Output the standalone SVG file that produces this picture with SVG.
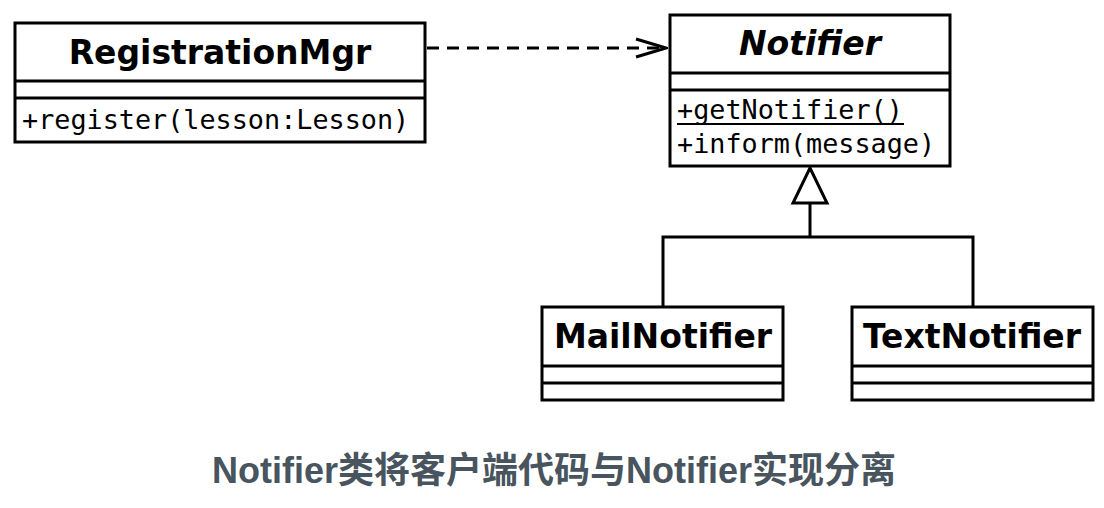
<svg xmlns="http://www.w3.org/2000/svg" width="1104" height="508" viewBox="0 0 1104 508">
<defs>
<style>
.box{fill:#fff;stroke:#000;stroke-width:3}
.ln{stroke:#000;stroke-width:3;fill:none}
.name{font-family:"DejaVu Sans",sans-serif;font-weight:bold;font-size:33px;text-anchor:middle;fill:#000}
.op{font-family:"DejaVu Sans Mono",monospace;font-size:26.8px;fill:#000}
.cap{font-family:"Liberation Sans","Noto Sans CJK SC",sans-serif;font-weight:bold;font-size:36px;text-anchor:middle;fill:#48545e}
</style>
<marker id="open" viewBox="0 0 34 22" refX="33" refY="11" markerWidth="34" markerHeight="22" markerUnits="userSpaceOnUse" orient="auto">
<path d="M2,2 L32,11 L2,20" fill="none" stroke="#000" stroke-width="3"/>
</marker>
</defs>
<rect width="1104" height="508" fill="#fff"/>
<g id="connectors">
<line x1="427" y1="48" x2="667" y2="48" class="ln" stroke-dasharray="12,8" marker-end="url(#open)"/>
<polygon points="810,168 793,203 827,203" fill="#fff" stroke="#000" stroke-width="3"/>
<polyline points="810,203 810,237" class="ln"/>
<polyline points="663,307 663,237 973,237 973,307" class="ln"/>
</g>
<g id="RegistrationMgr">
<rect x="15" y="23" width="410" height="119" class="box"/>
<line x1="15" y1="81" x2="425" y2="81" class="ln"/>
<line x1="15" y1="98" x2="425" y2="98" class="ln"/>
<text x="220" y="64" class="name">RegistrationMgr</text>
<text x="22" y="129" class="op">+register(lesson:Lesson)</text>
</g>
<g id="Notifier">
<rect x="670" y="15" width="280" height="151" class="box"/>
<line x1="670" y1="73" x2="950" y2="73" class="ln"/>
<line x1="670" y1="90" x2="950" y2="90" class="ln"/>
<text x="810" y="55" class="name" font-style="italic">Notifier</text>
<text x="677" y="119" class="op">+getNotifier()</text>
<line x1="677" y1="124" x2="904" y2="124" stroke="#000" stroke-width="2"/>
<text x="677" y="153" class="op">+inform(message)</text>
</g>
<g id="MailNotifier">
<rect x="542" y="307" width="241" height="93" class="box"/>
<line x1="542" y1="366" x2="783" y2="366" class="ln"/>
<line x1="542" y1="383" x2="783" y2="383" class="ln"/>
<text x="663" y="348" class="name">MailNotifier</text>
</g>
<g id="TextNotifier">
<rect x="852" y="307" width="241" height="93" class="box"/>
<line x1="852" y1="366" x2="1093" y2="366" class="ln"/>
<line x1="852" y1="383" x2="1093" y2="383" class="ln"/>
<text x="972" y="348" class="name">TextNotifier</text>
</g>
<text x="554" y="483" class="cap">Notifier类将客户端代码与Notifier实现分离</text>
</svg>
